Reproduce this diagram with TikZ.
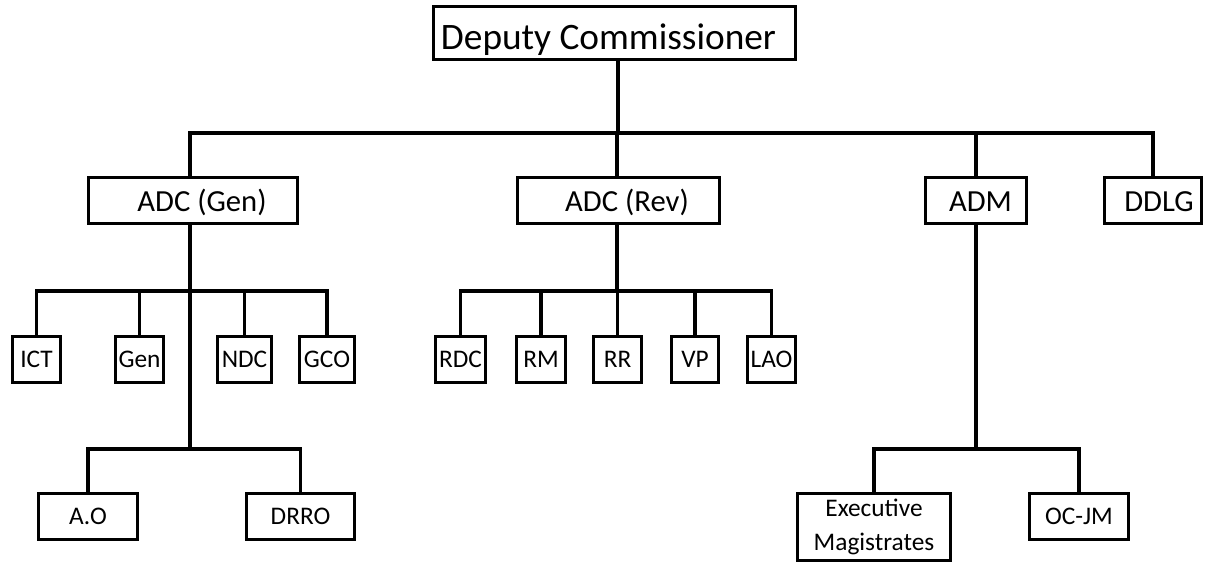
\documentclass[tikz,border=0pt]{standalone}
\usepackage{fontspec}
\setmainfont{Carlito}

\begin{document}
\begin{tikzpicture}[
    x=0.75pt, y=-0.75pt,
    unit/.style={draw, line width=2.9pt, inner sep=0pt},
    head/.style={unit, minimum width=271.5pt, minimum height=39.75pt, font=\fontsize{28}{34}\selectfont, text height=28pt, text depth=2.8pt},
    branch/.style={unit, minimum width=#1, minimum height=34.5pt, font=\fontsize{23}{28}\selectfont, text height=19.5pt, text depth=2.9pt},
    office/.style={unit, minimum width=#1, minimum height=34.5pt, font=\fontsize{19}{25}\selectfont, text height=14.25pt, text depth=2.85pt},
    textshift/.style={execute at begin node={\hspace*{#1}}},
    link/.style={line width=2.9pt}
]
\useasboundingbox (0,0) rectangle (1206,563);

\node[head, textshift=-9pt] (dc) at (614.5,33) {Deputy Commissioner};

\node[branch=156.75pt, textshift=13.5pt] (adcg) at (193,200.5) {ADC (Gen)};
\node[branch=151.5pt, textshift=12.75pt] (adcr) at (618.5,200.5) {ADC (Rev)};
\node[branch=75.75pt, textshift=6.75pt] (adm) at (976,200.5) {ADM};
\node[branch=72.75pt, textshift=9pt] (ddlg) at (1153,200.5) {DDLG};

\node[office=36pt] (ict) at (36.5,359.5) {ICT};
\node[office=36pt] (gen) at (139.5,359.5) {Gen};
\node[office=40.5pt] (ndc) at (244.5,359.5) {NDC};
\node[office=41.25pt] (gco) at (327,359.5) {GCO};

\node[office=37.5pt] (rdc) at (460.5,359.5) {RDC};
\node[office=36.75pt] (rm) at (541,359.5) {RM};
\node[office=36pt] (rr) at (617.5,359.5) {RR};
\node[office=35.25pt] (vp) at (695,359.5) {VP};
\node[office=36pt] (lao) at (771.5,359.5) {LAO};

\node[office=74.25pt] (ao) at (88,516.5) {A.O};
\node[office=81pt] (drro) at (300.5,516.5) {DRRO};

\node[office=114.75pt, minimum height=50.25pt, align=center, text height=, text depth=, font=\fontsize{19}{25.5}\selectfont] (exec) at (874,527) {Executive\\Magistrates};
\node[office=74.25pt] (ocjm) at (1079,516.5) {OC-JM};

% junctions of the buses
\coordinate (top) at (618,133);
\coordinate (gsplit) at (190,291);
\coordinate (gsplit2) at (190,449);
\coordinate (rsplit) at (617,291);
\coordinate (msplit) at (976,449);

\draw[link] (dc.south -| top) -- (top);
\draw[link] (adcg.north -| gsplit) |- (top) -| (ddlg.north);
\draw[link] (adcr.north -| rsplit) -- (rsplit |- top);
\draw[link] (adm.north) -- (adm.north |- top);

\draw[link] (adcg.south -| gsplit) -- (gsplit2);
\draw[link] (ict.north) |- (gsplit) -| (gco.north);
\foreach \o in {gen,ndc}
    \draw[link] (\o.north) -- (\o.north |- gsplit);
\draw[link] (ao.north) |- (gsplit2) -| (drro.north);

\draw[link] (adcr.south -| rsplit) -- (rsplit);
\draw[link] (rdc.north) |- (rsplit) -| (lao.north);
\foreach \o in {rm,rr,vp}
    \draw[link] (\o.north) -- (\o.north |- rsplit);

\draw[link] (adm.south) -- (msplit);
\draw[link] (exec.north) |- (msplit) -| (ocjm.north);

\end{tikzpicture}
\end{document}
